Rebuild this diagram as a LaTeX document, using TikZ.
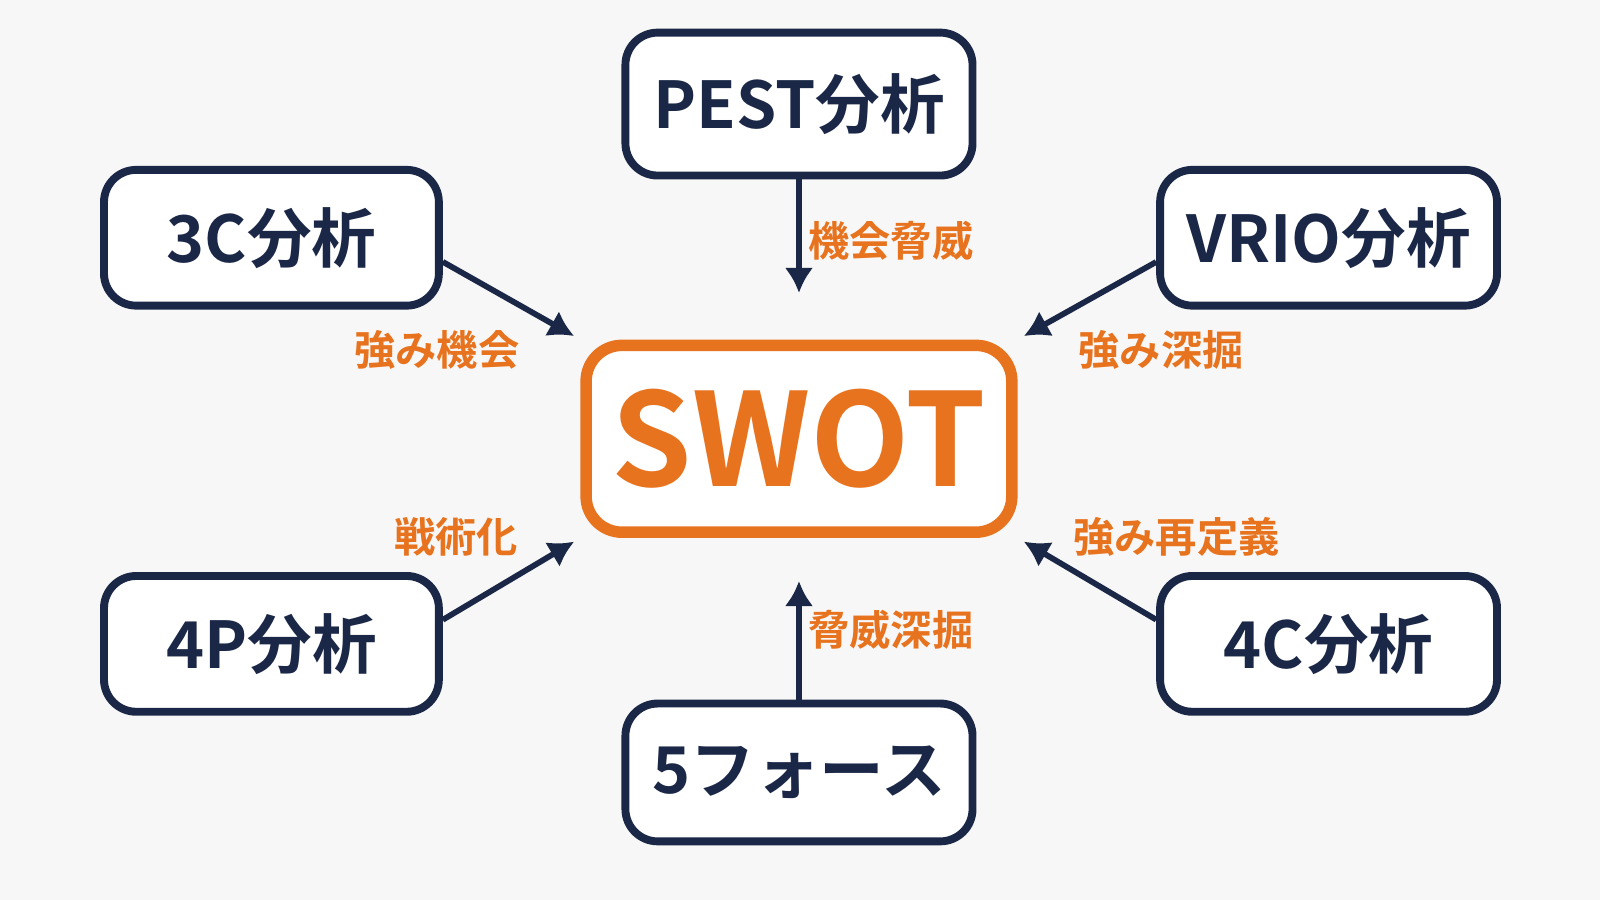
\documentclass[tikz,border=0pt]{standalone}
\usepackage{fontspec}
\setmainfont{Noto Sans CJK JP}[BoldFont={* Bold}]
\definecolor{navy}{HTML}{1B2747}
\definecolor{accent}{HTML}{E8731F}
\definecolor{paper}{HTML}{F7F7F7}
\usetikzlibrary{arrows.meta}
\tikzset{
  tool/.style={draw=navy,line width=2.2pt,rounded corners=9pt,fill=white,text=navy,
    font=\bfseries\fontsize{18}{20}\selectfont,minimum width=3.28cm,minimum height=1.33cm},
  hub/.style={draw=accent,line width=3.2pt,rounded corners=10pt,fill=white,text=accent,
    font=\bfseries\fontsize{36}{40}\selectfont,minimum width=4.17cm,minimum height=1.83cm},
  tag/.style={text=accent,font=\bfseries\fontsize{11.5}{13}\selectfont},
  feed/.style={draw=navy,line width=1.6pt,-{Latex[length=7pt,width=8pt]}},
}
\begin{document}
\begin{tikzpicture}[x=0.01cm,y=-0.01cm]
  \fill[paper] (0,0) rectangle (1568,882);
  \useasboundingbox (0,0) rectangle (1568,882);

  \node[hub] (swot) at (783,430) {SWOT};
  \node[tool,minimum width=3.4cm,minimum height=1.4cm] (pest) at (783,102) {PEST分析};
  \node[tool] (c3) at (266,233) {3C分析};
  \node[tool,minimum width=3.3cm] (vrio) at (1302,233) {VRIO分析};
  \node[tool] (p4) at (266,631) {4P分析};
  \node[tool,minimum width=3.3cm] (c4) at (1302,631) {4C分析};
  \node[tool,minimum width=3.4cm,minimum height=1.35cm] (five) at (783,757) {5フォース};

  \draw[feed,shorten >=13pt] (pest) -- (swot);
  \draw[feed,shorten >=12pt] (five) -- (swot);
  \draw[feed,shorten >=2pt] (c3.-8) -- (swot.north west);
  \draw[feed,shorten >=2pt] (vrio.188) -- (swot.north east);
  \draw[feed,shorten >=2pt] (p4.8) -- (swot.south west);
  \draw[feed,shorten >=2pt] (c4.172) -- (swot.south east);

  \node[tag] (t1) at (873,236) {機会脅威};
  \node[tag] (t2) at (428,343) {強み機会};
  \node[tag] (t3) at (1138,343) {強み深掘};
  \node[tag] (t4) at (447,526) {戦術化};
  \node[tag] (t5) at (1153,526) {強み再定義};
  \node[tag] (t6) at (873,617) {脅威深掘};
\end{tikzpicture}
\end{document}
